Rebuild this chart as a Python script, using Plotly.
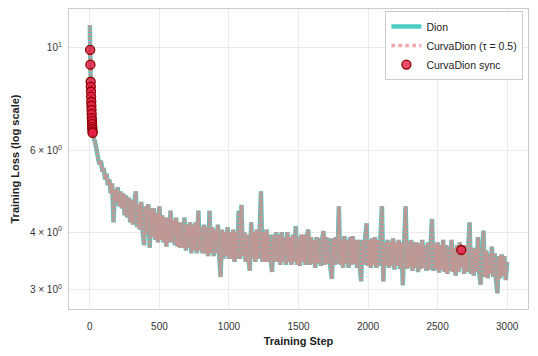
import plotly.graph_objects as go

# ── Data ──────────────────────────────────────────────────────────────────────

early_steps = [0, 1, 2, 3, 4, 5, 6, 7, 8, 9, 10, 11, 12, 13, 14, 15, 16, 17, 18, 19,
               20, 25, 30, 35, 40, 45]
early_loss = [11.2, 10.6, 9.9, 9.5, 9.2, 8.8, 8.45, 8.25, 8.05, 7.85, 7.65, 7.5, 7.35,
              7.2, 7.05, 6.95, 6.85, 6.75, 6.68, 6.6, 6.55, 6.45, 6.35, 6.3, 6.2, 6.1]

# every 10 steps from 50 to 3000
main_steps = list(range(50, 3001, 10))
main_loss = [
    6.0, 5.75, 5.6, 5.7, 5.4, 5.5, 5.2, 5.35, 5.05, 5.2,
    4.85, 5.1, 4.2, 4.95, 4.65, 5.0, 4.55, 4.9, 4.5, 4.85,
    4.35, 4.8, 4.3, 4.75, 4.2, 4.7, 4.15, 4.65, 4.9, 4.1,
    4.6, 4.05, 4.65, 4.0, 3.75, 4.55, 3.95, 4.6, 3.7, 4.5,
    3.9, 4.5, 3.85, 4.4, 3.8, 4.55, 3.85, 4.35, 3.8, 4.3,
    3.72, 4.3, 3.8, 4.45, 3.8, 4.25, 3.75, 4.3, 3.72, 4.2,
    3.7, 4.2, 3.7, 4.3, 3.65, 4.15, 3.7, 4.2, 3.6, 4.15,
    3.65, 4.2, 3.6, 4.45, 3.65, 4.1, 3.6, 4.15, 3.6, 4.1,
    3.55, 4.45, 3.6, 4.1, 3.55, 4.05, 3.6, 4.15, 3.55, 3.2,
    4.05, 3.5, 4.0, 3.55, 4.1, 3.5, 4.0, 3.5, 4.05, 3.45,
    4.0, 3.5, 4.45, 3.5, 4.58, 3.55, 4.0, 3.45, 3.95, 3.5,
    3.3, 4.2, 3.5, 4.0, 3.45, 4.05, 3.5, 3.95, 4.9, 3.45,
    4.0, 3.45, 4.05, 3.45, 3.95, 3.5, 3.28, 3.95, 3.45, 4.0,
    3.45, 3.95, 3.4, 4.0, 3.45, 3.9, 3.4, 4.0, 3.45, 3.9,
    3.4, 3.95, 3.45, 4.12, 3.4, 3.9, 3.38, 3.95, 3.45, 3.95,
    3.4, 3.9, 4.05, 3.4, 3.9, 3.42, 3.85, 3.35, 3.9, 3.42,
    3.88, 3.38, 3.85, 4.02, 3.4, 3.9, 3.42, 3.88, 3.35, 3.17,
    3.88, 3.4, 3.9, 3.42, 4.55, 3.4, 3.85, 3.35, 3.92, 3.42,
    3.85, 3.35, 3.9, 3.4, 3.92, 3.42, 3.85, 3.35, 3.85, 3.4,
    3.13, 3.85, 3.4, 3.9, 4.18, 3.38, 3.85, 3.35, 3.88, 3.4,
    3.9, 3.35, 3.85, 3.38, 3.92, 4.55, 3.13, 3.8, 3.38, 3.85,
    3.35, 3.82, 3.38, 3.88, 3.32, 3.8, 3.38, 3.85, 3.33, 3.8,
    3.07, 3.82, 4.55, 3.33, 3.8, 3.36, 3.85, 3.3, 3.8, 3.35,
    3.8, 3.28, 3.78, 3.33, 3.85, 3.35, 3.75, 3.3, 3.8, 3.32,
    3.78, 4.27, 3.3, 3.78, 3.32, 3.8, 3.27, 3.75, 3.32, 3.85,
    3.28, 3.75, 3.25, 3.72, 3.3, 3.85, 3.28, 3.7, 3.22, 3.75,
    3.28, 3.8, 3.35, 3.72, 3.25, 3.75, 3.28, 3.68, 4.2, 3.25,
    3.7, 3.22, 3.68, 3.28, 3.9, 3.25, 3.08, 3.65, 4.03, 3.2,
    3.65, 3.18, 3.6, 3.25, 3.72, 3.2, 3.6, 3.15, 2.95, 3.55,
    3.18, 3.58, 3.22, 3.55, 3.15, 3.45,
]

steps = early_steps + main_steps
dion_loss = early_loss + main_loss
# the CurvaDion curve sits right on top of Dion in the picture
curvadion_loss = list(dion_loss)

sync_steps = [2, 4, 6, 7, 8, 9, 10, 11, 12, 13, 14, 15, 16, 17, 18, 19, 20, 2670]
sync_loss = [9.9, 9.2, 8.45, 8.25, 8.05, 7.85, 7.65, 7.5, 7.35, 7.2, 7.05, 6.95,
             6.85, 6.75, 6.68, 6.6, 6.55, 3.66]

y_ticks = [3, 4, 6, 10]
y_tick_text = ["3 × 10<sup>0</sup>", "4 × 10<sup>0</sup>", "6 × 10<sup>0</sup>", "10<sup>1</sup>"]
x_ticks = [0, 500, 1000, 1500, 2000, 2500, 3000]

FONT = "Liberation Sans, Arial, sans-serif"
TEAL = "#4ECDC4"
PINK = "rgba(240,128,128,0.7)"

# ── Figure ────────────────────────────────────────────────────────────────────
# the page body has an 8px margin, so the figure is a bit smaller than the window

fig = go.Figure()

fig.add_trace(go.Scatter(
    x=steps, y=dion_loss, mode="lines", name="Dion",
    line=dict(color=TEAL, width=4.5, simplify=False),
))
# tight dot pattern so the dense band reads as solid pink like the original
fig.add_trace(go.Scatter(
    x=steps, y=curvadion_loss, mode="lines", name="CurvaDion (τ = 0.5)",
    line=dict(color=PINK, width=3.5, dash="3px,1px", simplify=False),
    showlegend=False,
))
# legend entry with the plain dotted look
fig.add_trace(go.Scatter(
    x=[None], y=[None], mode="lines", name="CurvaDion (τ = 0.5)",
    line=dict(color=PINK, width=3.5, dash="dot"),
))
fig.add_trace(go.Scatter(
    x=sync_steps, y=sync_loss, mode="markers", name="CurvaDion sync",
    marker=dict(size=9, color="rgba(232,30,70,0.8)",
                line=dict(color="#8B0000", width=1.3)),
))

fig.update_layout(
    width=530, height=348,
    margin=dict(l=61, r=10, t=1, b=47),
    paper_bgcolor="white", plot_bgcolor="white",
    font=dict(family=FONT, size=10, color="#333333"),
    showlegend=True,
    legend=dict(
        x=0.99, y=0.993, xanchor="right", yanchor="top",
        bgcolor="rgba(255,255,255,0.85)", bordercolor="#cccccc", borderwidth=1,
        font=dict(family=FONT, size=10.5, color="#222222"),
        tracegroupgap=0, itemwidth=30,
    ),
)

fig.update_xaxes(
    range=[-150, 3150], tickvals=x_ticks, automargin=False,
    showgrid=True, gridcolor="#ebebeb", gridwidth=1, zeroline=False,
    showline=True, mirror=True, linecolor="#cccccc", linewidth=1.2,
    ticks="", ticklabelstandoff=8, tickfont=dict(size=10, color="#333333"),
    title=dict(text="<b>Training Step</b>", font=dict(size=11, color="#222222"), standoff=6),
)
fig.update_yaxes(
    type="log", range=[0.436, 1.084], automargin=False,
    tickvals=y_ticks, ticktext=y_tick_text,
    showgrid=True, gridcolor="#ebebeb", gridwidth=1, zeroline=False,
    showline=True, mirror=True, linecolor="#cccccc", linewidth=1.2,
    ticks="", ticklabelstandoff=4, tickfont=dict(size=10, color="#333333"),
    title=dict(text="<b>Training Loss (log scale)</b>", font=dict(size=11, color="#222222"), standoff=8),
)

fig.write_html("out.html")
